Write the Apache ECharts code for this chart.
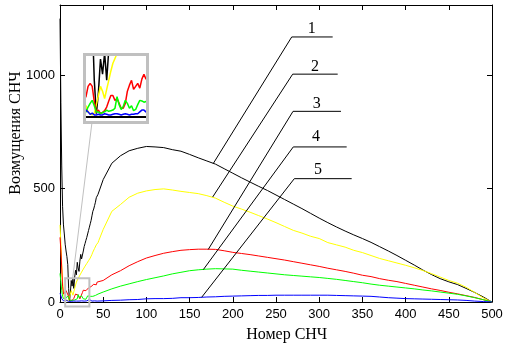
<!DOCTYPE html>
<html><head><meta charset="utf-8">
<script src="https://cdn.jsdelivr.net/npm/echarts@6/dist/echarts.min.js"></script>
<style>html,body{margin:0;padding:0;background:#fff}#c{width:512px;height:346px}</style>
</head><body><div id="c"></div>
<script>
// x positions (Номер СНЧ)
const xs = [0,1,2,3,4,5,6,7,8,9,10,11,12,13,14,15,16,17,18,19,20,21,22,23,24,25,26,27,28,29,30,31,32,33,34,35,36,37,38,39,40,41,42,43,44,45,
  50,60,70,80,90,100,110,120,130,140,150,160,170,180,190,200,210,220,230,240,250,260,270,280,290,300,310,320,330,340,350,360,370,380,390,400,410,420,430,440,450,460,470,480,490,500];
// series values (Возмущения СНЧ)
const s1 = [1250,880,600,420,340,300,255,225,200,165,60,5,40,95,70,105,60,110,140,120,175,150,135,180,210,190,185,225,245,258,272,285,300,315,330,345,360,380,400,410,425,440,460,468,475,478,
  540,612,645,667,678,686,684,681,672,665,651,636,622,608,588,568,548,529,510,492,472,452,432,412,391,370,350,331,313,296,280,263,244,225,205,184,163,141,121,103,89,77,60,42,22,0];
const s2 = [340,260,170,90,40,20,18,8,5,3,6,20,35,50,42,30,45,60,75,88,96,104,112,118,125,132,138,145,152,158,165,170,176,182,188,194,200,210,220,228,236,244,252,258,262,272,
  320,400,430,462,480,490,496,499,494,488,483,478,469,458,440,423,410,396,381,366,350,333,316,304,290,280,262,252,242,228,218,205,192,182,172,162,151,139,125,110,95,83,65,42,18,0];
const s3 = [285,230,150,70,35,28,33,50,55,50,25,8,11,5,7,10,16,26,35,35,27,30,22,14,14,22,42,52,60,45,50,55,47,62,70,62,68,75,64,78,72,85,76,88,80,92,
  95,120,138,160,178,194,205,215,222,228,231,233,233,232,226,219,214,209,203,197,191,185,178,171,164,157,149,142,135,127,118,112,103,96,90,82,74,66,58,51,43,36,28,20,10,0];
const s4 = [126,90,50,25,15,8,8,16,22,27,18,8,8,5,7,8,11,9,10,11,14,33,20,12,17,27,22,14,18,10,12,20,27,26,24,25,27,30,25,28,32,29,34,31,35,36,
  44,58,70,80,90,99,107,115,124,131,138,142,145,147,146,145,140,136,132,128,124,120,117,114,111,108,104,100,95,90,85,79,74,70,66,62,58,53,49,44,39,34,27,19,10,0];
const s5 = [38,28,15,8,5,6,11,8,4,6,3,3,4,3,3,5,4,3,3,4,5,5,4,3,4,5,4,3,4,4,5,5,8,11,11,8,5,4,5,4,5,4,5,4,5,4,
  5,7,8,10,11,14,15,15,16,19,19,20,22,23,25,26,27,28,29,29,30,30,30,30,30,30,30,29,28,27,26,25,22,19,17,15,14,13,12,11,10,9,7,4,2,0];
const seriesValues = [s1, s2, s3, s4, s5];
const seriesColors = ['#000000', '#ffff00', '#ff0000', '#00ff00', '#0000ff'];
const curveLabels = ['1', '2', '3', '4', '5'];
// annotation leader lines (data coords): tip on curve, elbow, end of horizontal line, label position
const labelTips   = [[177.4,611],[176.7,463],[171.6,232],[165.9,143],[164,21]];
const labelElbows = [[268.2,1169],[269.3,1005],[269.7,841],[270,684],[271.2,544]];
const labelEnds   = [[315.6,1169],[321.4,1005],[325.2,841],[331.8,684],[337.6,544]];
const labelPos    = [[291.3,1203],[295.1,1037],[297.1,873],[296.3,728],[298.6,582]];
const xTickLabels = [0,50,100,150,200,250,300,350,400,450,500];
const yTickLabels = [0,500,1000];
// zoom region shown in the inset
const zoomX = [6, 35];
const zoomY = [-7, 100];
const zoomBoxMain = [[6,105],[34,-20]];

function pairs(v){ return xs.map((x,i)=>[x, v[i]]); }

const chart = echarts.init(document.getElementById('c'), null, {renderer:'canvas'});
const sansFont = 'Liberation Sans, Arial, sans-serif';
const serifFont = 'Liberation Serif, Times New Roman, serif';
const axisCommon = {
  type:'value', splitLine:{show:false},
  axisLine:{onZero:false, lineStyle:{color:'#000', width:1}},
  axisTick:{inside:true, length:5, lineStyle:{color:'#000'}},
};
const series = [];
seriesValues.forEach((v,i)=>{
  series.push({type:'line', xAxisIndex:0, yAxisIndex:0, data:pairs(v), showSymbol:false, symbol:'none',
    lineStyle:{color:seriesColors[i], width:1}, silent:true, animation:false, z:2});
});
seriesValues.forEach((v,i)=>{
  series.push({type:'line', xAxisIndex:2, yAxisIndex:2, data:pairs(v), showSymbol:false, symbol:'none',
    lineStyle:{color:seriesColors[i], width:1.5}, silent:true, animation:false, clip:true, z:2});
});
labelTips.forEach((t,i)=>{
  series.push({type:'line', xAxisIndex:0, yAxisIndex:0, data:[t, labelElbows[i], labelEnds[i]], showSymbol:false, symbol:'none',
    lineStyle:{color:'#000', width:1}, silent:true, animation:false, z:3});
});

chart.setOption({
  animation:false,
  backgroundColor:'#fff',
  grid:[{left:60, top:5, width:432, height:297}, {left:86, top:56, width:60, height:65}],
  xAxis:[
    Object.assign({}, axisCommon, {gridIndex:0, position:'bottom', min:0, max:500, interval:50,
      axisLabel:{color:'#000', fontFamily:sansFont, fontSize:13, margin:6,
        formatter:(v)=> xTickLabels.indexOf(v) >= 0 ? String(v) : ''}}),
    Object.assign({}, axisCommon, {gridIndex:0, position:'top', min:0, max:500, interval:50, axisLabel:{show:false}}),
    {type:'value', gridIndex:1, min:zoomX[0], max:zoomX[1], splitLine:{show:false},
      axisLine:{onZero:true, lineStyle:{color:'#000', width:2}}, axisTick:{show:false}, axisLabel:{show:false}}
  ],
  yAxis:[
    Object.assign({}, axisCommon, {gridIndex:0, position:'left', min:0, max:1310, interval:500,
      axisLabel:{color:'#000', fontFamily:sansFont, fontSize:13, margin:5, showMaxLabel:false,
        formatter:(v)=> yTickLabels.indexOf(v) >= 0 ? String(v) : ''}}),
    Object.assign({}, axisCommon, {gridIndex:0, position:'right', min:0, max:1310, interval:500, axisLabel:{show:false}}),
    {type:'value', gridIndex:1, min:zoomY[0], max:zoomY[1], splitLine:{show:false},
      axisLine:{show:false}, axisTick:{show:false}, axisLabel:{show:false}}
  ],
  series: series
});

// decorations computed from the axes
const p = (pt)=> chart.convertToPixel({xAxisIndex:0, yAxisIndex:0}, pt);
const q = (pt)=> chart.convertToPixel({xAxisIndex:2, yAxisIndex:2}, pt);
const graphics = [];
const b1 = p(zoomBoxMain[0]), b2 = p(zoomBoxMain[1]);
graphics.push({type:'rect', shape:{x:b1[0], y:b1[1], width:b2[0]-b1[0], height:b2[1]-b1[1]},
  style:{fill:null, stroke:'#c0c0c0', lineWidth:2}, z:5, silent:true});
const i1 = q([zoomX[0], zoomY[1]]), i2 = q([zoomX[1], zoomY[0]]);
graphics.push({type:'rect', shape:{x:i1[0]-1.5, y:i1[1]-1.5, width:i2[0]-i1[0]+3, height:i2[1]-i1[1]+3},
  style:{fill:null, stroke:'#c0c0c0', lineWidth:3}, z:5, silent:true});
const c1 = q([8.8, zoomY[0]]);
const c2 = p([14.7, 105]);
graphics.push({type:'line', shape:{x1:c1[0], y1:c1[1]+3, x2:c2[0], y2:c2[1]},
  style:{stroke:'#c0c0c0', lineWidth:1}, z:5, silent:true});
labelPos.forEach((lp,i)=>{
  const pp = p(lp);
  graphics.push({type:'text', x:pp[0], y:pp[1], style:{text:curveLabels[i], fill:'#000', font:'16px ' + serifFont,
    textAlign:'center', textVerticalAlign:'middle'}, z:6, silent:true});
});
graphics.push({type:'text', x:286.7, y:335, style:{text:'Номер СНЧ', fill:'#000', font:'16px ' + serifFont,
  textAlign:'center', textVerticalAlign:'middle'}, z:6, silent:true});
graphics.push({type:'text', x:16, y:133, rotation:Math.PI/2, style:{text:'Возмущения СНЧ', fill:'#000', font:'16px ' + serifFont,
  textAlign:'center', textVerticalAlign:'middle'}, z:6, silent:true});
chart.setOption({graphic:graphics});
</script>
</body></html>
